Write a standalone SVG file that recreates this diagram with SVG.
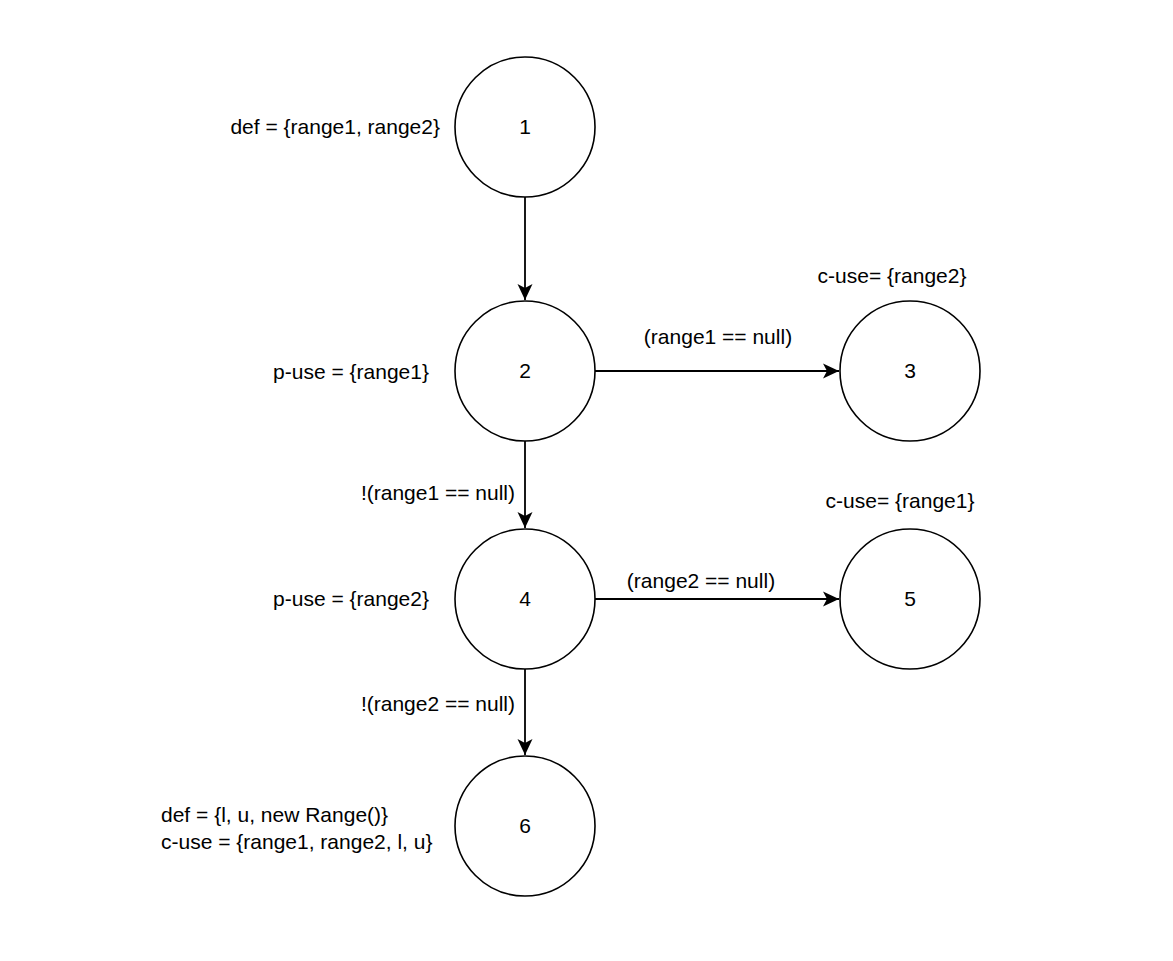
<svg xmlns="http://www.w3.org/2000/svg" width="1173" height="961" viewBox="0 0 1173 961">
<style>
.n{fill:#fff;stroke:#000;stroke-width:1.6}
.t{font-family:"Liberation Sans",Arial,sans-serif;font-size:21px;fill:#000}
.c{text-anchor:middle;dominant-baseline:central}
.e{stroke:#000;stroke-width:1.8;fill:none}
</style>
<defs>
<marker id="a" markerUnits="userSpaceOnUse" markerWidth="17" markerHeight="16" refX="16" refY="8" orient="auto">
<path d="M0,0.5 L16,8 L0,15.5 L4,8 Z" fill="#000"/>
</marker>
</defs>
<rect width="1173" height="961" fill="#fff"/>
<g id="edges">
<line class="e" x1="525" y1="197" x2="525" y2="300" marker-end="url(#a)"/>
<line class="e" x1="595" y1="371" x2="839" y2="371" marker-end="url(#a)"/>
<line class="e" x1="525" y1="441" x2="525" y2="528" marker-end="url(#a)"/>
<line class="e" x1="595" y1="599" x2="839" y2="599" marker-end="url(#a)"/>
<line class="e" x1="525" y1="669" x2="525" y2="755" marker-end="url(#a)"/>
<text class="t c" x="718" y="336">(range1 == null)</text>
<text class="t" x="515" y="492" text-anchor="end" dominant-baseline="central">!(range1 == null)</text>
<text class="t c" x="701" y="580">(range2 == null)</text>
<text class="t" x="515" y="703" text-anchor="end" dominant-baseline="central">!(range2 == null)</text>
</g>
<g id="node1"><circle class="n" cx="525" cy="127" r="70"/><text class="t c" x="525" y="126">1</text></g>
<g id="node2"><circle class="n" cx="525" cy="371" r="70"/><text class="t c" x="525" y="370">2</text></g>
<g id="node3"><circle class="n" cx="910" cy="371" r="70"/><text class="t c" x="910" y="370">3</text></g>
<g id="node4"><circle class="n" cx="525" cy="599" r="70"/><text class="t c" x="525" y="598">4</text></g>
<g id="node5"><circle class="n" cx="910" cy="599" r="70"/><text class="t c" x="910" y="598">5</text></g>
<g id="node6"><circle class="n" cx="525" cy="826" r="70"/><text class="t c" x="525" y="825">6</text></g>
<g id="labels">
<text class="t" x="440" y="126" text-anchor="end" dominant-baseline="central">def = {range1, range2}</text>
<text class="t c" x="351" y="371">p-use = {range1}</text>
<text class="t c" x="892" y="275">c-use= {range2}</text>
<text class="t c" x="351" y="598">p-use = {range2}</text>
<text class="t c" x="900" y="500">c-use= {range1}</text>
<text class="t" x="161" y="814" dominant-baseline="central">def = {l, u, new Range()}</text>
<text class="t" x="161" y="841" dominant-baseline="central">c-use = {range1, range2, l, u}</text>
</g>
</svg>
